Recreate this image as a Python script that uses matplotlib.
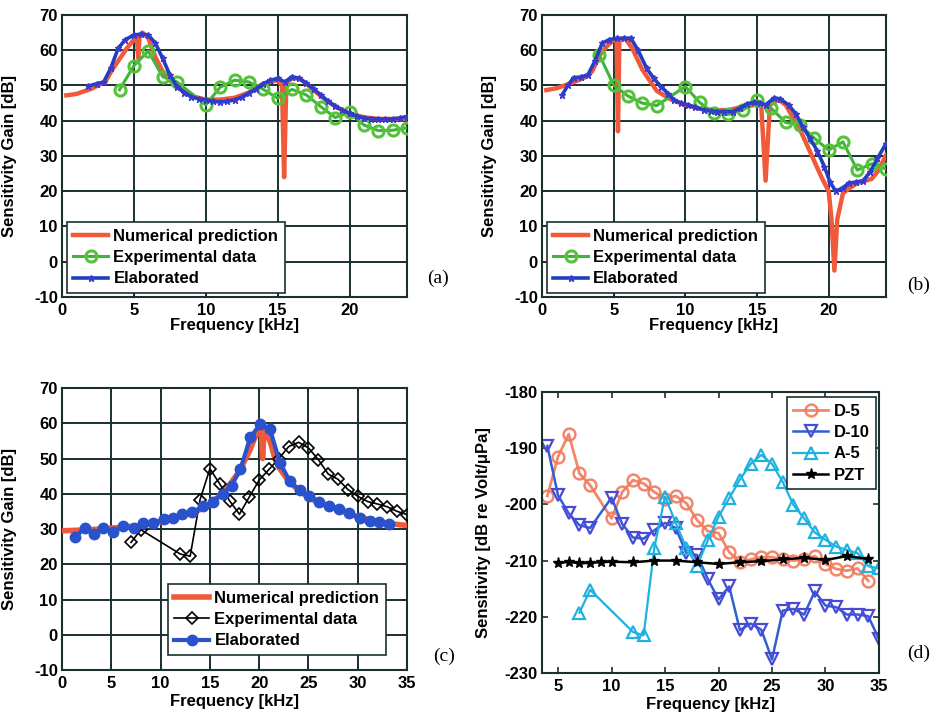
import matplotlib
matplotlib.use("Agg")
import matplotlib.pyplot as plt

plt.rcParams['font.family'] = ['Liberation Sans', 'DejaVu Sans']
plt.rcParams['font.weight'] = 'bold'
plt.rcParams['axes.unicode_minus'] = False

# ---------------- Panel (a) ----------------
a_num_x = [0.3, 1, 2, 3, 3.5, 4, 4.5, 5, 5.2, 5.3, 5.4, 5.6, 6, 6.5, 7, 7.5, 8, 9, 10, 11, 12, 13, 14,
           15, 15.3, 15.45, 15.6, 15.8, 16, 16.5, 17, 18, 19, 20, 21, 22, 23, 24]
a_num_y = [47.2, 47.6, 49, 51, 54.5, 57.5, 60.5, 63, 64, 57.8, 64, 65, 63.5, 58, 54, 51.5, 49.5, 47, 46, 46, 46.5, 48, 50.5,
           51.5, 50, 24, 50, 51.5, 52, 52, 50.5, 47, 44, 42, 41, 40.5, 40.5, 40.5]
a_exp_x = [4, 5, 6, 7, 8, 10, 11, 12, 13, 14, 15, 16, 17, 18, 19, 20, 21, 22, 23, 24]
a_exp_y = [48.8, 55.6, 59.8, 52.5, 51, 44.5, 49.5, 51.5, 51, 48.9, 46.4, 48.9, 47.3, 44, 40.9, 42.4, 38.8, 37.2, 37.3, 38]
a_elab_x = [1.8, 2.4, 2.9, 3.4, 3.9, 4.4, 5.0, 5.5, 6.0, 6.5, 7.0, 7.5, 8.0, 8.5, 9.0, 9.5, 10.0, 10.5, 11.0,
            11.5, 12.0, 12.5, 13.0, 13.5, 14.0, 14.5, 15.0, 15.5, 16.0, 16.5, 17.0, 17.5, 18.0, 18.5, 19.0,
            19.5, 20.0, 20.5, 21.0, 21.5, 22.0, 22.5, 23.0, 23.5, 24.0]
a_elab_y = [49.8, 50.5, 51, 55, 60.5, 63, 64.3, 64.6, 64.3, 62, 57.7, 53, 49.7, 48, 46.8, 46.2, 45.9, 45.5, 45.3,
            45.5, 45.9, 46.7, 47.8, 49, 50.5, 51.5, 52, 51, 52.5, 52, 50.6, 49, 47.3, 45.5, 44.2,
            43, 42.1, 41.3, 40.8, 40.6, 40.5, 40.5, 40.5, 40.8, 41.2]

# ---------------- Panel (b) ----------------
b_num_x = [0.3, 1, 2, 3, 3.5, 4, 4.5, 5, 5.2, 5.3, 5.4, 5.8, 6.3, 7, 7.5, 8, 9, 10, 11, 12, 13, 14, 15, 15.3,
           15.6, 15.9, 16.5, 17, 17.5, 18, 18.5, 19, 19.5, 20, 20.2, 20.4, 20.6, 21, 21.5, 22, 23, 23.5, 24]
b_num_y = [48.7, 49.2, 50.6, 52.3, 54, 58.5, 61, 63, 63, 37, 63, 63.4, 60.5, 54.5, 51.5, 48.5, 46, 44.5, 43.5, 43, 43, 44, 44.5, 44,
           23, 44.5, 46, 44.5, 41, 37.5, 33, 28.5, 24, 20, 12, -2.5, 12, 19.5, 21, 22.3, 23.5, 26, 30.3]
b_exp_x = [4, 5, 6, 7, 8, 10, 11, 12, 13, 14, 15, 16, 17, 18, 19, 20, 21, 22, 23, 24]
b_exp_y = [58.7, 50.1, 47, 45, 44.3, 49.7, 45.2, 42.1, 41.8, 43, 45.8, 43.5, 39.5, 38.9, 35, 31.7, 34, 26, 27.8, 26.3]
b_elab_x = [1.4, 1.8, 2.2, 2.7, 3.2, 3.7, 4.2, 4.7, 5.2, 5.7, 6.2, 6.7, 7.3, 7.8, 8.3, 8.8, 9.2, 9.7, 10.2, 10.7,
            11.3, 11.8, 12.2, 12.7, 13.3, 13.8, 14.3, 14.8, 15.2, 15.6, 16.2, 16.6, 17.2, 17.7, 18.2, 18.7,
            19.2, 19.7, 20.1, 20.5, 21.0, 21.4, 21.9, 22.4, 22.9, 23.4, 24.0]
b_elab_y = [47.3, 50, 52.2, 52.4, 53, 57, 62, 63, 63.4, 63.4, 63.4, 60, 54.9, 52, 49.7, 47.7, 45.9, 45, 44.5, 43.8,
            43, 42.8, 42.6, 42.6, 42.6, 43.5, 44.8, 45.2, 45, 44.5, 46.5, 46.2, 44.5, 42, 38.3, 35,
            31.5, 27, 22.5, 20, 21, 22.3, 22.6, 23, 25.5, 29.3, 33.5]

# ---------------- Panel (c) ----------------
c_num_x = [0, 2, 4, 6, 8, 10, 12, 14, 15, 16, 17, 18, 19, 19.5, 20, 20.2, 20.35, 20.5, 20.8, 21.2, 21.6, 22,
           23, 24, 25, 26, 28, 30, 32, 34, 35]
c_num_y = [29.5, 29.7, 30, 30.5, 31, 32, 33.5, 35.5, 37, 39.5, 42.5, 46.5, 52, 55.5, 58.5, 59, 50, 58.5, 57, 54, 50, 47.5,
           43.5, 41, 39, 37.5, 35.5, 33.5, 32, 31.3, 31]
c_exp_x = [7, 8, 12, 13, 14, 15, 16, 17, 18, 19, 20, 21, 22, 23, 24, 25, 26, 27, 28, 29, 30, 31, 32, 33, 34, 35]
c_exp_y = [26.2, 29.8, 22.9, 22.3, 38.3, 47.1, 42.8, 38, 34.2, 39.1, 43.9, 46.9, 50, 53.4, 54.6, 53, 49.7, 45.6, 44.1,
           41.2, 39.3, 37.8, 37.1, 36.3, 35, 34.1]
c_elab_x = [1.3, 2.3, 3.2, 4.2, 5.2, 6.2, 7.3, 8.2, 9.2, 10.3, 11.3, 12.2, 13.2, 14.3, 15.3, 16.3, 17.2, 18.1,
            19.1, 20.1, 21.1, 22.1, 23.1, 24.1, 25.1, 26.1, 27.1, 28.1, 29.1, 30.2, 31.2, 32.2, 33.2]
c_elab_y = [27.6, 30.3, 28.6, 30.2, 29.2, 30.8, 30.3, 31.7, 31.7, 32.8, 33.1, 34.3, 34.7, 36.4, 37.8, 40.0, 42.3, 47.0,
            56.0, 59.7, 58.3, 48.8, 43.6, 41.0, 39.4, 37.7, 36.6, 35.8, 34.5, 33.0, 32.3, 32.0, 31.4]

# ---------------- Panel (d) ----------------
d5_x = [4, 5, 6, 7, 8, 10, 11, 12, 13, 14, 15, 16, 17, 18, 19, 20, 21, 22, 23, 24, 25, 26, 27, 28, 29, 30, 31, 32, 33, 34]
d5_y = [-198.5, -191.5, -187.5, -194.5, -196.6, -202.5, -197.8, -195.7, -196.3, -197.8, -199, -198.5, -199.8, -202.8,
        -204.8, -205.1, -208.5, -210.2, -209.8, -209.4, -209.4, -209.8, -210, -209.8, -209.2, -210.6, -211.5, -211.8,
        -211.4, -213.6]
d10_x = [4, 5, 6, 7, 8, 10, 11, 12, 13, 14, 15, 16, 17, 18, 19, 20, 21, 22, 23, 24, 25, 26, 27, 28, 29, 30, 31, 32, 33, 34, 35]
d10_y = [-189.6, -198.4, -201.6, -203.7, -204.2, -198.8, -203.5, -205.9, -206.1, -204.6, -203.3, -204.2, -208.7, -209,
         -213.3, -216.9, -214.6, -222.4, -221.2, -222.3, -227.6, -218.9, -218.6, -219.6, -215.5, -218, -218.3, -219.6,
         -219.6, -219.9, -224]
a5_x = [7, 8, 12, 13, 14, 15, 16, 17, 18, 19, 20, 21, 22, 23, 24, 25, 26, 27, 28, 29, 30, 31, 32, 33, 34, 35]
a5_y = [-219.3, -215.2, -222.7, -223.3, -207.7, -198.6, -203.3, -207.8, -210.9, -206.4, -202.2, -198.9, -195.6, -192.8,
        -191.2, -192.8, -196, -200.1, -202.5, -205, -206.3, -207.5, -208.1, -208.7, -211, -211.4]
pzt_x = [5, 6, 7, 8, 9, 10, 12, 14, 16, 18, 20, 22, 24, 26, 28, 30, 32, 34]
pzt_y = [-210.5, -210.2, -210.5, -210.4, -210.3, -210.2, -210.3, -210, -210, -210.3, -210.6, -210.3, -210.1, -209.8,
         -209.5, -209.9, -209.2, -209.7]

gain_ticks = [-10, 0, 10, 20, 30, 40, 50, 60, 70]

RED = '#f05a3a'
GREEN = '#3fb43c'
BLUE = '#1f3fc0'
GRIDC = '#1a3030'

fig = plt.figure(figsize=(9.34, 7.2), dpi=100)

ax_a = fig.add_axes([0.0664, 0.5875, 0.3694, 0.3917])
ax_b = fig.add_axes([0.5803, 0.5875, 0.3683, 0.3917])
ax_c = fig.add_axes([0.0664, 0.0694, 0.3694, 0.3917])
ax_d = fig.add_axes([0.5803, 0.0653, 0.3608, 0.3903])

TICKFS = 12
LABFS = 12


def style(ax, grid=True):
    for s in ax.spines.values():
        s.set_color(GRIDC)
        s.set_linewidth(1.5)
    ax.tick_params(direction='in', top=True, right=True, labelsize=TICKFS, length=4,
                   color=GRIDC, width=1.2)
    ax.tick_params(axis='x', pad=4)
    ax.tick_params(axis='y', pad=3)
    for lab in ax.get_xticklabels() + ax.get_yticklabels():
        lab.set_fontweight('bold')
    if grid:
        ax.grid(True, color=GRIDC, lw=1.4)


def gain_panel(ax, num_x, num_y, exp_x, exp_y, elab_x, elab_y, xmax, xticks):
    ax.plot(num_x, num_y, color=RED, lw=3.2, label='Numerical prediction', zorder=3)
    ax.plot(exp_x, exp_y, color=GREEN, lw=2.2, marker='o', ms=8, mfc='none', mec='#55c23a', mew=2.2,
            label='Experimental data', zorder=4)
    ax.plot(elab_x, elab_y, color=BLUE, lw=2.6, marker='*', ms=5, mec='#3a3ad0', mfc=BLUE,
            label='Elaborated', zorder=5)
    ax.set_xlim(0, xmax)
    ax.set_ylim(-10, 70)
    ax.set_xticks(xticks)
    ax.set_yticks(gain_ticks)
    ax.set_xlabel('Frequency [kHz]', fontsize=LABFS, fontweight='bold')
    ax.set_ylabel('Sensitivity Gain [dB]', fontsize=LABFS, fontweight='bold')
    style(ax)
    ax.xaxis.set_label_coords(0.5, -0.075)
    ax.yaxis.set_label_coords(-0.13, 0.5)


gain_panel(ax_a, a_num_x, a_num_y, a_exp_x, a_exp_y, a_elab_x, a_elab_y, 24, [0, 5, 10, 15, 20])
gain_panel(ax_b, b_num_x, b_num_y, b_exp_x, b_exp_y, b_elab_x, b_elab_y, 24, [0, 5, 10, 15, 20])

leg_kw = dict(frameon=True, fancybox=False, edgecolor=GRIDC, framealpha=1,
              handlelength=2.1, handletextpad=0.3, borderpad=0.4, labelspacing=0.38,
              borderaxespad=0.0, prop={'weight': 'bold', 'size': LABFS})
for ax in (ax_a, ax_b):
    leg = ax.legend(loc='lower left', bbox_to_anchor=(0.0136, 0.014), **leg_kw)
    leg.get_frame().set_linewidth(1.2)

# (c)
ax_c.plot(c_num_x, c_num_y, color=RED, lw=4, label='Numerical prediction', zorder=3)
ax_c.plot(c_exp_x, c_exp_y, color='black', lw=1.2, marker='D', ms=6, mfc='none', mec='black', mew=1.2,
          label='Experimental data', zorder=4)
ax_c.plot(c_elab_x, c_elab_y, color='#2a52cc', lw=3, marker='o', ms=7.5, mfc='#2a52cc', mec='#2a52cc',
          label='Elaborated', zorder=5)
ax_c.set_xlim(0, 35)
ax_c.set_ylim(-10, 70)
ax_c.set_xticks([0, 5, 10, 15, 20, 25, 30, 35])
ax_c.set_yticks(gain_ticks)
ax_c.set_xlabel('Frequency [kHz]', fontsize=LABFS, fontweight='bold')
ax_c.set_ylabel('Sensitivity Gain [dB]', fontsize=LABFS, fontweight='bold')
style(ax_c)
ax_c.xaxis.set_label_coords(0.5, -0.085)
ax_c.yaxis.set_label_coords(-0.13, 0.5)
leg = ax_c.legend(loc='lower right', bbox_to_anchor=(0.939, 0.053), **leg_kw)
leg.get_frame().set_linewidth(1.2)

# (d)
ax_d.plot(d5_x, d5_y, color='#f07a5c', lw=2, marker='o', ms=8.5, mfc='none', mec='#f07a5c', mew=1.8,
          label='D-5', alpha=0.9)
ax_d.plot(d10_x, d10_y, color='#2f5fd0', lw=1.8, marker='v', ms=9, mfc='none', mec='#4a4ad6', mew=1.6,
          label='D-10')
ax_d.plot(a5_x, a5_y, color='#1fb2e0', lw=1.6, marker='^', ms=9, mfc='none', mec='#1fb2e0', mew=1.6,
          label='A-5')
ax_d.plot(pzt_x, pzt_y, color='black', lw=1.8, marker='*', ms=8, mfc='black', mec='black',
          label='PZT')
ax_d.set_xlim(3.5, 35)
ax_d.set_ylim(-230, -180)
ax_d.set_xticks([5, 10, 15, 20, 25, 30, 35])
ax_d.set_yticks([-230, -220, -210, -200, -190, -180])
ax_d.set_xlabel('Frequency [kHz]', fontsize=LABFS, fontweight='bold')
ax_d.set_ylabel('Sensitivity [dB re Volt/μPa]', fontsize=LABFS, fontweight='bold')
style(ax_d, grid=False)
ax_d.xaxis.set_label_coords(0.5, -0.085)
ax_d.yaxis.set_label_coords(-0.15, 0.5)
leg = ax_d.legend(loc='upper right', bbox_to_anchor=(0.991, 0.982), **leg_kw)
leg.get_frame().set_linewidth(1.2)

# panel tags
tagkw = dict(fontsize=14, family=['Liberation Serif', 'DejaVu Serif'], fontweight='normal', va='center', ha='left')
fig.text(0.457, 0.614, '(a)', **tagkw)
fig.text(0.971, 0.604, '(b)', **tagkw)
fig.text(0.4636, 0.088, '(c)', **tagkw)
fig.text(0.971, 0.0926, '(d)', **tagkw)

fig.savefig('out.png', dpi=100)
